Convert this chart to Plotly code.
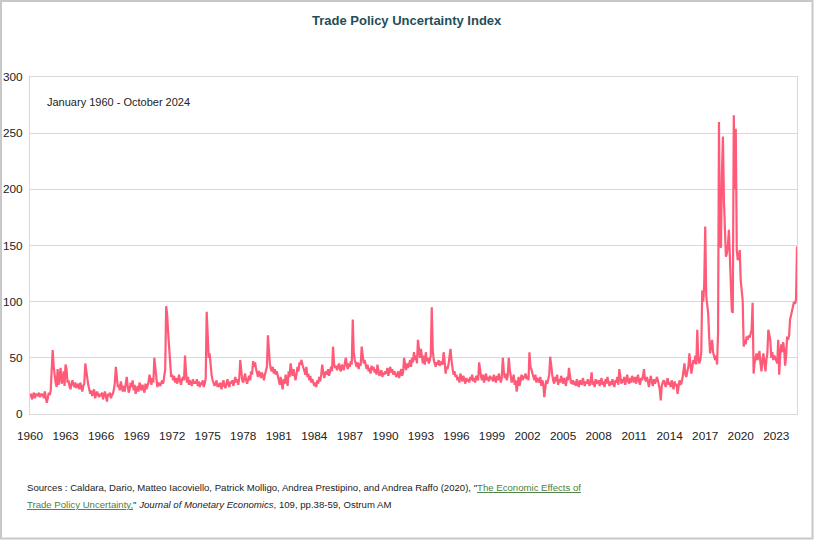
import pandas as pd
import plotly.graph_objects as go

# Trade Policy Uncertainty Index, monthly, January 1960 - October 2024
tpu_1960s = [
    15, 18, 13, 17, 19, 14, 18, 17, 16, 19, 15, 18,
    16, 18, 14, 20, 15, 10, 14, 19, 17, 21, 40, 57,
    42, 30, 28, 24, 40, 26, 35, 41, 27, 30, 38, 25,
    44, 40, 28, 30, 25, 22, 27, 30, 26, 24, 28, 23,
    25, 27, 22, 28, 24, 20, 25, 27, 45, 38, 30, 26,
    22, 18, 21, 16, 19, 22, 14, 18, 20, 17, 15, 18,
    16, 19, 13, 17, 20, 15, 11, 18, 16, 19, 14, 17,
    18, 22, 28, 42, 35, 24, 26, 21, 29, 23, 20, 25,
    20, 27, 33, 25, 19, 22, 28, 24, 30, 21, 26, 18,
    22, 25, 20, 28, 24, 21, 26, 23, 19, 27, 22, 25,
]
tpu_1970s = [
    28, 35, 30, 26, 32, 28, 50, 42, 30, 24, 28, 26,
    25, 28, 30, 27, 33, 40, 96, 88, 72, 55, 40, 33,
    35, 30, 34, 28, 32, 27, 30, 35, 29, 26, 31, 33,
    30, 52, 38, 28, 33, 26, 30, 28, 25, 31, 27, 29,
    27, 31, 25, 29, 24, 28, 26, 30, 24, 27, 32, 91,
    72, 50, 54, 42, 35, 30, 28, 25, 27, 30, 24, 27,
    24, 28, 22, 26, 30, 25, 23, 27, 31, 26, 24, 29,
    27, 30, 25, 29, 33, 28, 31, 26, 32, 48, 35, 30,
    28, 33, 36, 30, 27, 31, 34, 30, 38, 35, 47, 42,
    46, 40, 35, 33, 38, 36, 32, 37, 34, 30, 35, 38,
]
tpu_1980s = [
    42, 70, 52, 45, 40, 38, 42, 36, 40, 35, 38, 33,
    30, 26, 33, 28, 22, 31, 27, 35, 30, 25, 38, 33,
    45, 38, 34, 40, 36, 30, 35, 42, 38, 46, 44, 48,
    44, 40, 38, 35, 42, 33, 36, 30, 34, 28, 31, 27,
    25, 28, 24, 30, 27, 33, 29, 35, 44, 38, 32, 36,
    38, 35, 40, 34, 37, 42, 38, 60, 45, 41, 43, 39,
    42, 45, 40, 38, 44, 41, 39, 46, 50, 43, 40, 45,
    42, 47, 44, 84, 55, 48, 45, 42, 46, 40, 45, 43,
    60, 52, 45, 48, 42, 40, 44, 38, 41, 36, 43, 39,
    42, 37, 40, 35, 44, 38, 34, 36, 39, 33, 37, 35,
]
tpu_1990s = [
    38, 36, 41, 34, 39, 42, 37, 40, 35, 38, 36, 33,
    35, 38, 32, 36, 40, 34, 37, 50, 42, 39, 45, 41,
    44, 48, 42, 50, 46, 55, 48, 52, 45, 66, 58, 50,
    58, 48, 45, 52, 44, 55, 47, 50, 45, 48, 52, 95,
    57, 48, 45, 42, 46, 44, 48, 43, 45, 47, 44, 55,
    48, 36, 42, 40, 44, 50, 58, 48, 40, 35, 38, 33,
    35, 30, 33, 28, 36, 31, 29, 34, 30, 27, 32, 29,
    31, 28, 33, 30, 35, 29, 32, 28, 34, 31, 30, 46,
    38, 33, 30, 35, 28, 32, 36, 30, 33, 29, 34, 31,
    33, 29, 35, 31, 28, 34, 30, 36, 32, 28, 33, 50,
]
tpu_2000s = [
    38, 32, 36, 30, 34, 50, 40, 33, 28, 31, 35, 26,
    30, 20, 28, 33, 25, 31, 35, 30, 34, 32, 36, 31,
    34, 30, 55, 42, 40, 36, 33, 30, 35, 28, 32, 30,
    28, 33, 25, 30, 27, 15, 24, 30, 27, 32, 35, 51,
    41, 35, 30, 27, 33, 29, 35, 26, 31, 28, 34, 30,
    27, 32, 29, 25, 33, 30, 41, 33, 28, 27, 30, 26,
    29, 25, 31, 27, 24, 30, 28, 26, 32, 27, 25, 29,
    27, 31, 28, 25, 30, 37, 26, 29, 24, 31, 27, 28,
    30, 25, 28, 32, 26, 29, 24, 31, 27, 33, 28, 25,
    29, 26, 31, 27, 24, 30, 28, 33, 26, 40, 30, 27,
]
tpu_2010s = [
    31, 28, 33, 26, 30, 35, 29, 27, 32, 28, 34, 30,
    28, 33, 27, 31, 35, 29, 26, 32, 30, 34, 40, 31,
    29, 33, 27, 24, 30, 34, 28, 25, 31, 27, 29, 33,
    30, 26, 22, 12, 25, 28, 30, 27, 24, 29, 32, 26,
    28, 24, 30, 26, 22, 29, 25, 27, 18, 24, 30, 26,
    28, 32, 38, 45, 35, 33, 38, 42, 54, 40, 36, 42,
    48, 45, 52, 44, 75, 50, 45, 48, 55, 110, 100, 115,
    167, 105, 99, 90, 70, 54, 60, 66, 55, 50, 48, 52,
    44, 72, 260, 152, 148, 215, 247, 190, 152, 140, 143, 150,
    164, 131, 110, 92, 90, 266, 200, 254, 146, 137, 140, 146,
]
tpu_2020s = [
    119, 110, 101, 60, 66, 62, 69, 66, 70, 68, 72, 75,
    99, 36, 45, 50, 54, 48, 52, 56, 45, 38, 48, 54,
    45, 38, 48, 54, 75, 70, 66, 50, 55, 48, 52, 50,
    48, 45, 66, 35, 52, 62, 55, 64, 58, 43, 52, 69,
    66, 70, 84, 88, 92, 95, 100, 98, 102, 149,
]

tick_years = list(range(1960, 2024, 3))
y_ticks = [0, 50, 100, 150, 200, 250, 300]

values = tpu_1960s + tpu_1970s + tpu_1980s + tpu_1990s + tpu_2000s + tpu_2010s + tpu_2020s
dates = pd.date_range("1960-01-01", periods=len(values), freq="MS")

FONT = "Liberation Sans, Arial, sans-serif"
GRID = "#d9d9d9"
TXT = "#222222"

fig = go.Figure(
    go.Scatter(
        x=dates, y=values, mode="lines",
        line=dict(color="#FF5A78", width=2.2),
        hoverinfo="x+y", showlegend=False,
    )
)

# plot area: x 30..797, y 77..414 (px)
L, R, T, B = 30, 17, 77, 126
W, H = 814, 540
pw, ph = W - L - R, H - T - B

def px(xp):
    return (xp - L) / pw

def py(yp):
    return (H - B - yp) / ph

fig.update_layout(
    width=W, height=H,
    margin=dict(l=L, r=R, t=T, b=B, autoexpand=False),
    paper_bgcolor="white", plot_bgcolor="white",
    font=dict(family=FONT, size=11.5, color=TXT),
    xaxis=dict(
        type="date",
        range=[dates[0], dates[-1]],
        tickvals=[pd.Timestamp(f"{y}-01-01") for y in tick_years],
        ticktext=[str(y) for y in tick_years],
        showgrid=False, showline=True, linecolor=GRID, linewidth=1, mirror=True,
        ticks="", ticklabelstandoff=11, automargin=False,
        tickfont=dict(family=FONT, size=11.8, color=TXT),
    ),
    yaxis=dict(
        range=[0, 300], tickvals=y_ticks, ticktext=[str(v) for v in y_ticks],
        showgrid=True, gridcolor=GRID, gridwidth=1,
        showline=True, linecolor=GRID, linewidth=1, mirror=True,
        zeroline=False, ticks="", ticklabelstandoff=4, automargin=False,
        tickfont=dict(family=FONT, size=11.8, color=TXT),
    ),
    shapes=[
        dict(type="rect", xref="paper", yref="paper",
             x0=px(1), x1=px(812.5), y0=py(538.5), y1=py(1),
             line=dict(color="#c8c8c8", width=2), fillcolor="rgba(0,0,0,0)", layer="below"),
    ],
    annotations=[
        dict(text="<b>Trade Policy Uncertainty Index</b>", xref="paper", yref="paper",
             x=px(407), y=py(20), xanchor="center", yanchor="middle", showarrow=False,
             font=dict(family=FONT, size=13, color="#1F4E57")),
        dict(text="January 1960 - October 2024", xref="paper", yref="paper",
             x=px(45), y=py(102), xanchor="left", yanchor="middle", showarrow=False,
             font=dict(family=FONT, size=11, color=TXT)),
        dict(text='Sources : Caldara, Dario, Matteo Iacoviello, Patrick Molligo, Andrea Prestipino, and Andrea Raffo (2020), "'
                  '<span style="color:#4a7f3f"><u>The Economic Effects of</u></span>',
             xref="paper", yref="paper", x=px(25), y=py(487), xanchor="left", yanchor="middle",
             showarrow=False, align="left", font=dict(family=FONT, size=9.6, color=TXT)),
        dict(text='<span style="color:#4a7f3f"><u>Trade Policy Uncertainty,</u></span>" '
                  '<i>Journal of Monetary Economics</i>, 109, pp.38-59, Ostrum AM',
             xref="paper", yref="paper", x=px(25), y=py(505), xanchor="left", yanchor="middle",
             showarrow=False, align="left", font=dict(family=FONT, size=9.6, color=TXT)),
    ],
)

# remove the browser's default 8px page margin so the figure sits at the window origin
fig.write_html(
    "out.html",
    config={"displayModeBar": False},
    post_script="document.body.style.margin='0';",
)
